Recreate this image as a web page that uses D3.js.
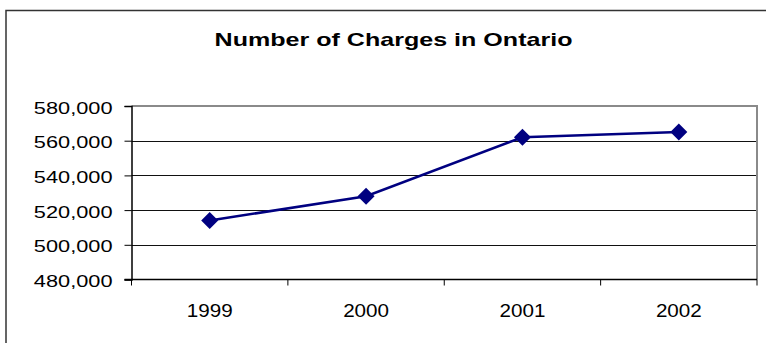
<!DOCTYPE html>
<html>
<head>
<meta charset="utf-8">
<script src="https://cdn.jsdelivr.net/npm/d3@7"></script>
<style>
  html, body { margin: 0; padding: 0; background: #fff; }
  svg { display: block; }
  text { font-family: "Liberation Sans", Arial, sans-serif; fill: #000; }
</style>
</head>
<body>
<svg id="chart" width="766" height="343"></svg>
<script>
// Annual totals of charges laid in Ontario
const years = ["1999", "2000", "2001", "2002"];
const charges = [514000, 528000, 562000, 565000];
const yTicks = [480000, 500000, 520000, 540000, 560000, 580000];
const title = "Number of Charges in Ontario";

const svg = d3.select("#chart");
const W = 766, H = 343;
const plot = { left: 131.5, right: 757, top: 106, bottom: 279.5 };

// Outer chart frame (runs off the right and bottom edges)
svg.append("rect")
  .attr("x", 6).attr("y", 10.5)
  .attr("width", W + 10).attr("height", H + 10)
  .attr("fill", "none").attr("stroke", "#333").attr("stroke-width", 1.5);

const x = d3.scaleBand().domain(years).range([plot.left, plot.right]).padding(0);
const y = d3.scaleLinear().domain([480000, 580000]).range([plot.bottom, plot.top]);

// Horizontal gridlines
svg.append("g")
  .selectAll("line")
  .data(yTicks.filter(t => t > 480000 && t < 580000))
  .join("line")
  .attr("x1", plot.left).attr("x2", plot.right)
  .attr("y1", d => Math.round(y(d)) + 0.5).attr("y2", d => Math.round(y(d)) + 0.5)
  .attr("stroke", "#111").attr("stroke-width", 1);

// Plot-area frame: grey top and right edges
svg.append("path")
  .attr("d", `M${plot.left},${plot.top}H${plot.right}V${plot.bottom}`)
  .attr("fill", "none").attr("stroke", "#8a8a8a").attr("stroke-width", 2);

// Y axis
const yAxis = d3.axisLeft(y)
  .tickValues(yTicks)
  .tickSize(7)
  .tickPadding(0)
  .tickFormat(d3.format(","));
const gy = svg.append("g").attr("transform", `translate(${plot.left},0)`).call(yAxis);
gy.select(".domain").attr("stroke", "#000").attr("stroke-width", 1.5);
gy.selectAll(".tick line").attr("stroke", "#000");
gy.selectAll(".tick text").text(null);
gy.selectAll(".tick").append("text")
  .attr("text-anchor", "end")
  .attr("font-size", 16.5)
  .attr("transform", "translate(-19,7) scale(1.32,1)")
  .text(d => d3.format(",")(d));

// X axis with ticks on category boundaries
const gx = svg.append("g").attr("transform", `translate(0,${plot.bottom})`);
gx.append("line")
  .attr("x1", plot.left - 7).attr("x2", plot.right)
  .attr("stroke", "#000").attr("stroke-width", 1.5);
gx.selectAll("line.bound")
  .data(years.concat(["end"]))
  .join("line")
  .attr("class", "bound")
  .attr("x1", (d, i) => i < years.length ? x(d) : plot.right)
  .attr("x2", (d, i) => i < years.length ? x(d) : plot.right)
  .attr("y1", 0).attr("y2", 6)
  .attr("stroke", "#000").attr("stroke-width", 1);
gx.selectAll("text")
  .data(years)
  .join("text")
  .attr("text-anchor", "middle")
  .attr("font-size", 18.6)
  .attr("transform", d => `translate(${x(d) + x.bandwidth() / 2},37.2) scale(1.11,1)`)
  .text(d => d);

// Series line
const px = d => x(d) + x.bandwidth() / 2;
svg.append("path")
  .datum(charges)
  .attr("d", d3.line().x((d, i) => px(years[i])).y(d => y(d)))
  .attr("fill", "none").attr("stroke", "#000080").attr("stroke-width", 2.5);

// Diamond markers
svg.append("g")
  .selectAll("path")
  .data(charges)
  .join("path")
  .attr("transform", (d, i) => `translate(${px(years[i])},${y(d)})`)
  .attr("d", "M0,-8.5L8.5,0L0,8.5L-8.5,0Z")
  .attr("fill", "#000080");

// Title
svg.append("text")
  .attr("text-anchor", "middle")
  .attr("font-size", 19)
  .attr("font-weight", "bold")
  .attr("transform", "translate(393.5,46) scale(1.32,1)")
  .text(title);
</script>
</body>
</html>
